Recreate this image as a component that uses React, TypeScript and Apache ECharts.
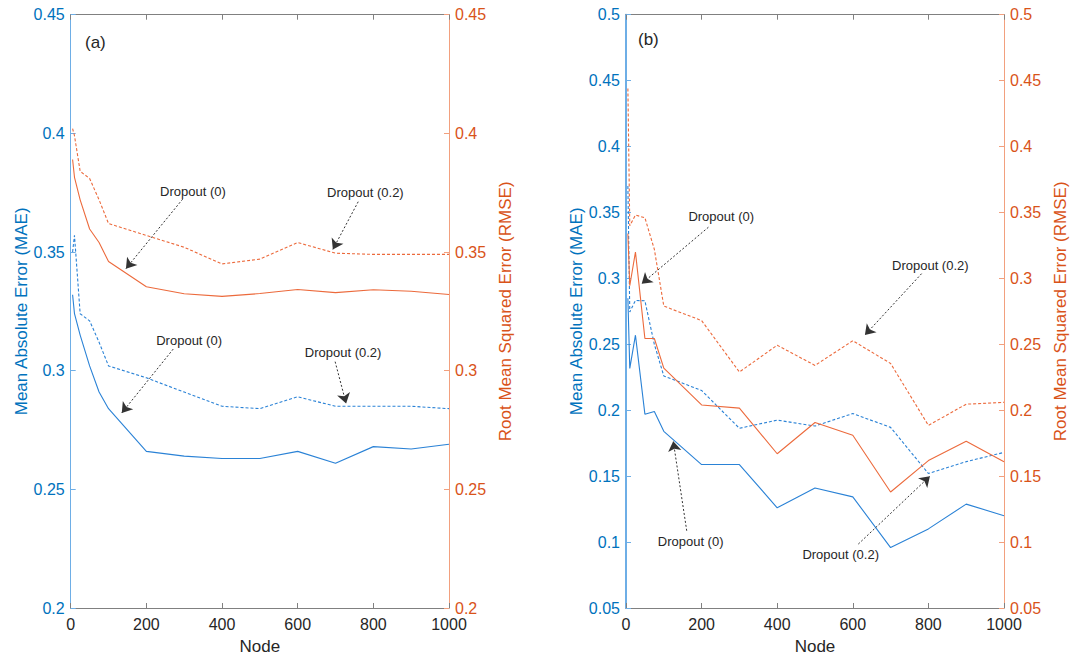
import React, { useEffect, useRef } from "react";
import * as echarts from "echarts";

const nodes = [5, 10, 25, 50, 75, 100, 200, 300, 400, 500, 600, 700, 800, 900, 1000];
const xTicks = [0, 200, 400, 600, 800, 1000];

// Panel (a)
const maeA_d0 = [0.332, 0.324, 0.315, 0.302, 0.291, 0.284, 0.266, 0.264, 0.263, 0.263, 0.266, 0.261, 0.268, 0.267, 0.269];
const maeA_d02 = [0.35, 0.357, 0.324, 0.321, 0.312, 0.302, 0.297, 0.291, 0.285, 0.284, 0.289, 0.285, 0.285, 0.285, 0.284];
const rmseA_d0 = [0.389, 0.3815, 0.372, 0.3597, 0.354, 0.346, 0.3354, 0.3324, 0.3313, 0.3325, 0.3342, 0.3329, 0.3341, 0.3335, 0.3321];
const rmseA_d02 = [0.402, 0.399, 0.384, 0.381, 0.372, 0.362, 0.357, 0.352, 0.345, 0.347, 0.354, 0.3495, 0.349, 0.349, 0.349];

// Panel (b)
const maeB_d0 = [0.285, 0.2317, 0.2569, 0.197, 0.199, 0.184, 0.1588, 0.1588, 0.126, 0.141, 0.1343, 0.0958, 0.11, 0.1288, 0.12];
const maeB_d02 = [0.37, 0.2745, 0.2833, 0.283, 0.25, 0.226, 0.215, 0.1863, 0.1925, 0.188, 0.1975, 0.187, 0.152, 0.161, 0.168];
const rmseB_d0 = [0.334, 0.2944, 0.32, 0.2544, 0.2544, 0.232, 0.204, 0.2016, 0.167, 0.1907, 0.181, 0.138, 0.1618, 0.1764, 0.161];
const rmseB_d02 = [0.444, 0.34, 0.348, 0.346, 0.322, 0.279, 0.268, 0.229, 0.2493, 0.234, 0.2527, 0.2355, 0.1885, 0.2046, 0.206];

const yTicksA = [0.2, 0.25, 0.3, 0.35, 0.4, 0.45];
const yTicksB = [0.05, 0.1, 0.15, 0.2, 0.25, 0.3, 0.35, 0.4, 0.45, 0.5];

// Annotations (data coordinates): text position, arrow start, arrow tip
const annotA = [
  { text: "Dropout (0)", at: [323, 0.3757], from: [296, 0.3723], to: [146, 0.343] },
  { text: "Dropout (0.2)", at: [779, 0.3752], from: [760, 0.3712], to: [693, 0.3511] },
  { text: "Dropout (0)", at: [313, 0.3128], from: [271, 0.3091], to: [135, 0.2822] },
  { text: "Dropout (0.2)", at: [720, 0.3077], from: [699, 0.3038], to: [728, 0.2862] },
];
const annotB = [
  { text: "Dropout (0)", at: [252, 0.3466], from: [218, 0.3388], to: [41.5, 0.296] },
  { text: "Dropout (0.2)", at: [805, 0.3098], from: [782, 0.3036], to: [632, 0.257] },
  { text: "Dropout (0)", at: [171, 0.1003], from: [160.6, 0.1086], to: [125, 0.1765] },
  { text: "Dropout (0.2)", at: [568, 0.0902], from: [614.6, 0.0985], to: [804, 0.15] },
];

const FONT = "Liberation Sans, Arial, Helvetica, sans-serif";
const BLUE = "#0072BD";
const ORANGE = "#D95319";
const BLUE_LINE = "#2a82d6";
const ORANGE_LINE = "#ec6a3c";
const GRAY = "#808080";
const TXT = "#262626";

const fmt = (v: number) => String(parseFloat(v.toFixed(2)));

function App() {
  const ref = useRef<HTMLDivElement>(null);
  useEffect(() => {
    if (!ref.current) return;
    const chart = echarts.init(ref.current, undefined, { renderer: "svg" });

    const grids = [
      { left: 70.7, top: 14.7, width: 378.3, height: 596.3 },
      { left: 626, top: 14.7, width: 378, height: 596.3 },
    ];

    const xAxes: any[] = [];
    [0, 1].forEach((g) => {
      xAxes.push({
        gridIndex: g,
        type: "value",
        min: xTicks[0],
        max: xTicks[xTicks.length - 1],
        interval: xTicks[1] - xTicks[0],
        position: "bottom",
        axisLine: { show: true, onZero: false, lineStyle: { color: GRAY, width: 1 } },
        axisTick: { show: true, inside: true, length: 5, lineStyle: { color: GRAY } },
        axisLabel: { color: TXT, fontSize: 16, fontFamily: FONT, margin: 8, formatter: (v: number) => String(v) },
        splitLine: { show: false },
        name: "Node",
        nameLocation: "middle",
        nameGap: 30,
        nameTextStyle: { color: TXT, fontSize: 17, fontFamily: FONT },
      });
      xAxes.push({
        gridIndex: g,
        type: "value",
        min: xTicks[0],
        max: xTicks[xTicks.length - 1],
        interval: xTicks[1] - xTicks[0],
        position: "top",
        axisLine: { show: true, onZero: false, lineStyle: { color: GRAY, width: 1 } },
        axisTick: { show: true, inside: true, length: 5, lineStyle: { color: GRAY } },
        axisLabel: { show: false },
        splitLine: { show: false },
      });
    });

    const yAxes: any[] = [];
    [
      { g: 0, ticks: yTicksA },
      { g: 1, ticks: yTicksB },
    ].forEach(({ g, ticks }) => {
      const common = {
        gridIndex: g,
        type: "value",
        min: ticks[0],
        max: ticks[ticks.length - 1],
        interval: 0.05,
        splitLine: { show: false },
        nameLocation: "middle",
        nameRotate: 90,
      };
      yAxes.push({
        ...common,
        position: "left",
        axisLine: { show: true, onZero: false, lineStyle: { color: "#6eaee6", width: g === 1 ? 2 : 1 } },
        axisTick: { show: true, inside: true, length: 5, lineStyle: { color: "#6eaee6" } },
        axisLabel: { color: BLUE, fontSize: 16, fontFamily: FONT, margin: 6, formatter: fmt },
        name: "Mean Absolute Error (MAE)",
        nameGap: 38,
        nameTextStyle: { color: BLUE, fontSize: 17, fontFamily: FONT },
      });
      yAxes.push({
        ...common,
        position: "right",
        axisLine: { show: true, onZero: false, lineStyle: { color: "#f2a07e", width: 1 } },
        axisTick: { show: true, inside: true, length: 5, lineStyle: { color: "#f2a07e" } },
        axisLabel: { color: ORANGE, fontSize: 16, fontFamily: FONT, margin: 6, formatter: fmt },
        name: "Root Mean Squared Error (RMSE)",
        nameGap: 48,
        nameTextStyle: { color: ORANGE, fontSize: 17, fontFamily: FONT },
      });
    });

    const toPairs = (vals: number[]) => nodes.map((n, i) => [n, vals[i]]);

    const lineSeries = (
      name: string,
      vals: number[],
      g: number,
      right: boolean,
      dashed: boolean,
      extra: any = {}
    ) => ({
      name,
      type: "line",
      xAxisIndex: g * 2,
      yAxisIndex: g * 2 + (right ? 1 : 0),
      data: toPairs(vals),
      symbol: "none",
      silent: true,
      lineStyle: {
        color: right ? ORANGE_LINE : BLUE_LINE,
        width: 1.1,
        type: dashed ? [3, 2] : "solid",
      },
      ...extra,
    });

    const annotExtra = (annots: typeof annotA) => ({
      markLine: {
        silent: true,
        symbol: ["none", "arrow"],
        symbolSize: 10,
        lineStyle: { color: "#333333", width: 1, type: [2, 2] },
        label: { show: false },
        emphasis: { disabled: true },
        data: annots.map((a) => [
          { coord: a.from, symbol: "none" },
          { coord: a.to, symbol: "arrow" },
        ]),
      },
      markPoint: {
        silent: true,
        symbol: "rect",
        symbolSize: 1,
        itemStyle: { color: "rgba(0,0,0,0)" },
        label: {
          show: true,
          position: "inside",
          formatter: "{b}",
          color: TXT,
          fontSize: 13,
          fontFamily: FONT,
        },
        data: annots.map((a) => ({ coord: a.at, name: a.text, value: 0 })),
      },
    });

    chart.setOption({
      animation: false,
      backgroundColor: "#ffffff",
      grid: grids,
      xAxis: xAxes,
      yAxis: yAxes,
      graphic: [
        { type: "text", left: 85, top: 34, style: { text: "(a)", fontSize: 17, fontFamily: FONT, fill: TXT } },
        { type: "text", left: 638, top: 31, style: { text: "(b)", fontSize: 17, fontFamily: FONT, fill: TXT } },
      ],
      series: [
        lineSeries("MAE Dropout (0) a", maeA_d0, 0, false, false),
        lineSeries("MAE Dropout (0.2) a", maeA_d02, 0, false, true),
        lineSeries("RMSE Dropout (0) a", rmseA_d0, 0, true, false),
        lineSeries("RMSE Dropout (0.2) a", rmseA_d02, 0, true, true, annotExtra(annotA)),
        lineSeries("MAE Dropout (0) b", maeB_d0, 1, false, false),
        lineSeries("MAE Dropout (0.2) b", maeB_d02, 1, false, true),
        lineSeries("RMSE Dropout (0) b", rmseB_d0, 1, true, false),
        lineSeries("RMSE Dropout (0.2) b", rmseB_d02, 1, true, true, annotExtra(annotB)),
      ],
    });

    return () => chart.dispose();
  }, []);

  return (
    <div
      ref={ref}
      style={{ position: "absolute", left: 0, top: 0, width: 1071, height: 660, background: "#fff" }}
    />
  );
}

export default App;
